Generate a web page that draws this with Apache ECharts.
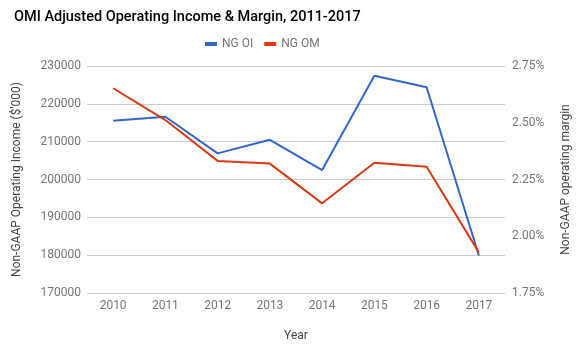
<!DOCTYPE html>
<html>
<head>
<meta charset="utf-8">
<script src="https://cdn.jsdelivr.net/npm/echarts@6/dist/echarts.min.js"></script>
<style>
  html, body { margin: 0; padding: 0; background: #fff; }
  #chart { width: 584px; height: 353px; }
</style>
</head>
<body>
<div id="chart"></div>
<script>
    var years = ['2010', '2011', '2012', '2013', '2014', '2015', '2016', '2017'];
    // NG OI, $'000
    var ngOI = [215500, 216600, 206900, 210500, 202500, 227400, 224400, 179900];
    // NG OM, percent
    var ngOM = [2.652, 2.512, 2.332, 2.320, 2.145, 2.324, 2.306, 1.929];

    var chart = echarts.init(document.getElementById('chart'));
    var font = 'Roboto, sans-serif';

    var option = {
        animation: false,
        title: {
            text: 'OMI Adjusted Operating Income & Margin, 2011-2017',
            left: 9,
            top: 5,
            textStyle: {
                fontFamily: font,
                fontSize: 14.5,
                fontWeight: 500,
                color: '#000'
            }
        },
        legend: {
            top: 33,
            left: 200,
            icon: 'rect',
            itemWidth: 12,
            itemHeight: 4,
            itemGap: 11,
            textStyle: {fontFamily: font, fontSize: 12, color: '#757575'},
            data: ['NG OI', 'NG OM']
        },
        grid: {
            left: 87,
            right: 79,
            top: 66,
            bottom: 60
        },
        xAxis: {
            type: 'category',
            data: years,
            name: 'Year',
            nameLocation: 'middle',
            nameGap: 37,
            nameTextStyle: {fontFamily: font, fontSize: 12, color: '#444'},
            axisLine: {show: false},
            axisTick: {show: false},
            axisLabel: {fontFamily: font, fontSize: 12, color: '#757575', margin: 7}
        },
        yAxis: [
            {
                type: 'value',
                min: 170000,
                max: 230000,
                interval: 10000,
                name: "Non-GAAP Operating Income ($'000)",
                nameLocation: 'middle',
                nameGap: 64,
                nameTextStyle: {fontFamily: font, fontSize: 12, color: '#444'},
                axisLine: {show: false},
                axisTick: {show: false},
                axisLabel: {
                    fontFamily: font, fontSize: 12, color: '#757575', margin: 6,
                    formatter: function (v) { return String(v); }
                },
                splitLine: {lineStyle: {color: '#ccc'}}
            },
            {
                type: 'value',
                min: 1.75,
                max: 2.75,
                interval: 0.25,
                name: 'Non-GAAP operating margin',
                nameLocation: 'middle',
                nameGap: 55,
                nameTextStyle: {fontFamily: font, fontSize: 12, color: '#444'},
                axisLine: {show: false},
                axisTick: {show: false},
                axisLabel: {
                    fontFamily: font, fontSize: 12, color: '#757575', margin: 7,
                    formatter: function (v) { return v.toFixed(2) + '%'; }
                },
                splitLine: {show: false}
            }
        ],
        series: [
            {
                name: 'NG OI',
                type: 'line',
                yAxisIndex: 0,
                data: ngOI,
                showSymbol: false,
                itemStyle: {color: '#3366cc'},
                lineStyle: {width: 2, color: '#3366cc'}
            },
            {
                name: 'NG OM',
                type: 'line',
                yAxisIndex: 1,
                data: ngOM,
                showSymbol: false,
                itemStyle: {color: '#dc3912'},
                lineStyle: {width: 2, color: '#dc3912'}
            }
        ]
    };

    chart.setOption(option);
</script>
</body>
</html>
